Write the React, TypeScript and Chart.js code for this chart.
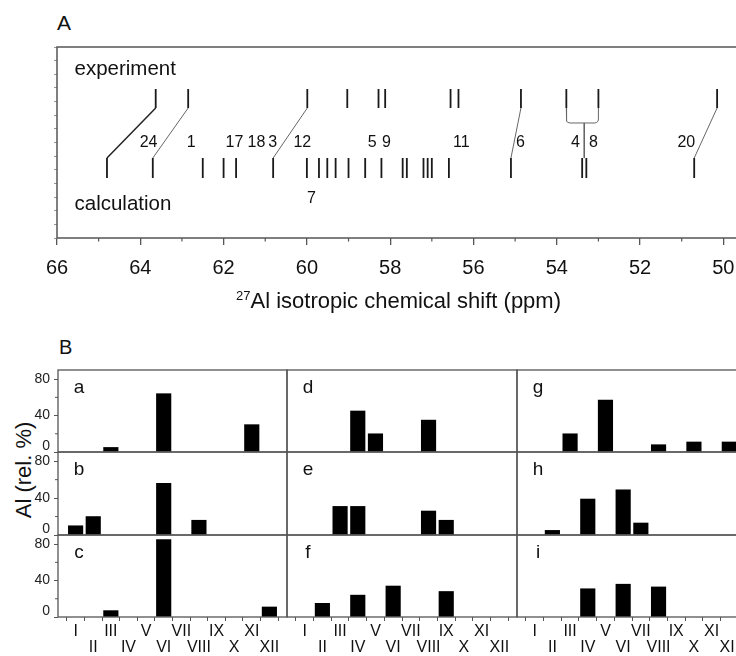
import React, { useEffect, useRef } from 'react';
import { Chart, registerables } from 'chart.js';

Chart.register(...registerables);

const FONT = '"Liberation Sans", Arial, Helvetica, sans-serif';
const INK = '#111';
const FRAME = '#555';

// ---------- Panel A : 27Al isotropic chemical shifts (ppm) ----------
const EXP_SHIFTS = [63.63, 62.85, 59.99, 59.03, 58.28, 58.12, 56.55, 56.36, 54.86, 53.77, 53.0, 50.15];
const CALC_SHIFTS = [64.8, 63.7, 62.5, 62.0, 61.7, 60.81, 60.0, 59.71, 59.51, 59.31, 59.0, 58.6, 58.21, 57.7, 57.6, 57.2, 57.1, 57.0, 56.59, 55.1, 53.39, 53.29, 50.7];
const LINK_EXP = [63.63, 62.85, 59.99, 54.86, 50.15];
const LINK_CALC = [64.8, 63.7, 60.81, 55.1, 50.7];
const BRACKET_EXP = [53.77, 53.0];
const BRACKET_CALC = 53.34;
const SITE_LABELS = ['24', '1', '17', '18', '3', '12', '5', '9', '11', '6', '4', '8', '20'];
const SITE_LABEL_SHIFTS = [63.8, 62.78, 61.74, 61.21, 60.82, 60.11, 58.43, 58.09, 56.29, 54.87, 53.55, 53.12, 50.89];
const LOW_LABELS = ['7'];
const LOW_LABEL_SHIFTS = [59.89];
const SHIFT_MIN = 49;
const SHIFT_MAX = 66;

// ---------- Panel B : Al distribution over T sites (rel. %) ----------
const SITES = ['I', 'II', 'III', 'IV', 'V', 'VI', 'VII', 'VIII', 'IX', 'X', 'XI', 'XII'];
const AL_A = [0, 0, 5, 0, 0, 64, 0, 0, 0, 0, 30, 0];
const AL_B = [10, 20, 0, 0, 0, 56, 0, 16, 0, 0, 0, 0];
const AL_C = [0, 0, 7, 0, 0, 85, 0, 0, 0, 0, 0, 11];
const AL_D = [0, 0, 0, 45, 20, 0, 0, 35, 0, 0, 0, 0];
const AL_E = [0, 0, 31, 31, 0, 0, 0, 26, 16, 0, 0, 0];
const AL_F = [0, 15, 0, 24, 0, 34, 0, 0, 28, 0, 0, 0];
const AL_G = [0, 0, 20, 0, 57, 0, 0, 8, 0, 11, 0, 11];
const AL_H = [0, 5, 0, 39, 0, 49, 13, 0, 0, 0, 0, 0];
const AL_I = [0, 0, 0, 31, 0, 36, 0, 33, 0, 0, 0, 0];
const PANEL_NAMES = ['a', 'b', 'c', 'd', 'e', 'f', 'g', 'h', 'i'];
const PANEL_VALUES = [AL_A, AL_B, AL_C, AL_D, AL_E, AL_F, AL_G, AL_H, AL_I];
const Y_TICKS_MAJOR = [0, 40, 80];
const Y_TICKS_MINOR = [20, 60];

// ---------- layout (pixels) ----------
const A_W = 780, A_H = 290;
const A_LEFT = 57, A_TOP = 47, A_RIGHT_PAD = 15, A_AXIS_H = 52;
// vertical levels of panel A (in its own 0..14 y units)
const EXP_LO = 9.53, EXP_HI = 10.92, CALC_LO = 4.4, CALC_HI = 5.86;
const BRACKET_Y = 8.43;
const LABEL_BASE = 6.69, LOW_BASE = 2.54;
const TXT_EXP_BASE = 11.95, TXT_CALC_BASE = 2.05, TXT_X = 65.58;

const COL_X = [58, 287, 517, 747];
const ROW_Y = [370, 452, 535, 617];
const B_PAD_L = 58, B_PAD_T = 20, B_PAD_R = 8, B_PAD_B = 44;

function sticks(arr: number[], lo: number, hi: number) {
  return arr.flatMap((s) => [{ x: s, y: lo }, { x: s, y: hi }, { x: s, y: null as any }]);
}

function links(from: number[], to: number[]) {
  return from.flatMap((s, i) => [{ x: s, y: EXP_LO }, { x: to[i], y: CALC_HI }, { x: s, y: null as any }]);
}

function bracket() {
  const [a, b] = BRACKET_EXP;
  return [
    { x: a, y: EXP_LO }, { x: a, y: 8.72 }, { x: a - 0.01, y: 8.56 }, { x: a - 0.04, y: 8.47 }, { x: a - 0.09, y: BRACKET_Y },
    { x: b + 0.09, y: BRACKET_Y }, { x: b + 0.04, y: 8.47 }, { x: b + 0.01, y: 8.56 }, { x: b, y: 8.72 }, { x: b, y: EXP_LO },
    { x: b, y: null as any },
    { x: BRACKET_CALC, y: BRACKET_Y }, { x: BRACKET_CALC, y: CALC_HI },
  ];
}

const lineDs = (data: any[], color: string, width: number) => ({
  data, borderColor: color, borderWidth: width, pointRadius: 0, fill: false, tension: 0,
  spanGaps: false, borderCapStyle: 'butt', showLine: true,
});

const panelAPlugin = {
  id: 'panelA',
  afterDraw(chart: any) {
    const { ctx, chartArea: ca, scales } = chart;
    const x = scales.x, y = scales.y;
    ctx.save();
    ctx.strokeStyle = FRAME;
    ctx.lineWidth = 1.5;
    ctx.strokeRect(ca.left, ca.top, ca.right - ca.left, ca.bottom - ca.top);
    ctx.lineWidth = 1.2;
    ctx.beginPath();
    for (let v = SHIFT_MIN; v <= SHIFT_MAX; v++) {
      if (v % 2 !== 0) {
        const px = x.getPixelForValue(v);
        ctx.moveTo(px, ca.bottom);
        ctx.lineTo(px, ca.bottom + 3.5);
      }
    }
    ctx.stroke();
    ctx.fillStyle = INK;
    ctx.textBaseline = 'alphabetic';
    ctx.textAlign = 'left';
    ctx.font = `20.5px ${FONT}`;
    ctx.fillText('experiment', x.getPixelForValue(TXT_X), y.getPixelForValue(TXT_EXP_BASE));
    ctx.fillText('calculation', x.getPixelForValue(TXT_X), y.getPixelForValue(TXT_CALC_BASE));
    ctx.textAlign = 'center';
    ctx.font = `16px ${FONT}`;
    SITE_LABELS.forEach((t, i) => ctx.fillText(t, x.getPixelForValue(SITE_LABEL_SHIFTS[i]), y.getPixelForValue(LABEL_BASE)));
    LOW_LABELS.forEach((t, i) => ctx.fillText(t, x.getPixelForValue(LOW_LABEL_SHIFTS[i]), y.getPixelForValue(LOW_BASE)));
    ctx.restore();
  },
};

function panelAConfig(): any {
  return {
    type: 'line',
    data: {
      datasets: [
        lineDs(sticks(EXP_SHIFTS, EXP_LO, EXP_HI), '#1a1a1a', 1.8),
        lineDs(sticks(CALC_SHIFTS, CALC_LO, CALC_HI), '#1a1a1a', 1.8),
        lineDs(links(LINK_EXP.slice(0, 1), LINK_CALC.slice(0, 1)), '#222', 1.5),
        lineDs(links(LINK_EXP.slice(1), LINK_CALC.slice(1)), '#666', 1),
        lineDs(bracket(), '#666', 1),
      ],
    },
    options: {
      animation: false,
      responsive: false,
      maintainAspectRatio: false,
      events: [],
      layout: { padding: { left: 0, top: A_TOP, right: A_RIGHT_PAD, bottom: 0 } },
      plugins: { legend: { display: false }, tooltip: { enabled: false } },
      scales: {
        x: {
          type: 'linear', min: SHIFT_MIN, max: SHIFT_MAX, reverse: true, position: 'bottom',
          afterFit: (s: any) => { s.height = A_AXIS_H; },
          ticks: { stepSize: 2, includeBounds: false, autoSkip: false, maxRotation: 0, padding: 11, color: INK, font: { family: FONT, size: 20 } },
          grid: { drawOnChartArea: false, drawTicks: true, tickLength: 7, color: FRAME, lineWidth: 1.3 },
          border: { display: false },
        },
        y: {
          type: 'linear', min: 0, max: 14, position: 'left',
          afterFit: (s: any) => { s.width = A_LEFT; },
          ticks: { stepSize: 1, display: false },
          grid: { drawOnChartArea: false, drawTicks: true, tickLength: 3, color: '#999', lineWidth: 1 },
          border: { display: false },
        },
      },
    },
    plugins: [panelAPlugin],
  };
}

function makePanelBPlugin(name: string, showY: boolean) {
  return {
    id: 'panelB',
    afterDraw(chart: any) {
      const { ctx, chartArea: ca, scales } = chart;
      ctx.save();
      ctx.strokeStyle = FRAME;
      ctx.lineWidth = 1.3;
      ctx.strokeRect(ca.left, ca.top, ca.right - ca.left, ca.bottom - ca.top);
      if (showY) {
        ctx.lineWidth = 1;
        ctx.beginPath();
        Y_TICKS_MINOR.forEach((v) => {
          const py = scales.y.getPixelForValue(v);
          ctx.moveTo(ca.left - 3, py);
          ctx.lineTo(ca.left, py);
        });
        ctx.stroke();
      }
      ctx.fillStyle = INK;
      ctx.font = `19px ${FONT}`;
      ctx.textAlign = 'center';
      ctx.textBaseline = 'alphabetic';
      ctx.fillText(name, ca.left + 21, ca.top + 23);
      ctx.restore();
    },
  };
}

function panelBConfig(col: number, row: number, values: number[], name: string): any {
  const showY = col === 0;
  const showX = row === 2;
  return {
    type: 'bar',
    data: {
      datasets: [{
        data: SITES.map((_, i) => ({ x: i + 1, y: values[i] ? values[i] : null })),
        backgroundColor: '#000',
        borderWidth: 0,
        barThickness: 14.5,
      }],
    },
    options: {
      animation: false,
      responsive: false,
      maintainAspectRatio: false,
      events: [],
      layout: { padding: { left: 0, top: B_PAD_T, right: B_PAD_R, bottom: 0 } },
      plugins: { legend: { display: false }, tooltip: { enabled: false } },
      scales: {
        x: {
          type: 'linear', min: 0, max: SITES.length + 1, offset: false, position: 'bottom',
          afterFit: (s: any) => { s.height = B_PAD_B; },
          ticks: {
            display: showX, stepSize: 1, autoSkip: false, maxRotation: 0, padding: 3, color: INK,
            font: { family: FONT, size: 16, lineHeight: 1 },
            callback: (v: number) => {
              if (v < 1 || v > SITES.length) return '';
              const lab = SITES[v - 1];
              return v % 2 === 1 ? lab : ['', lab];
            },
          },
          grid: { drawOnChartArea: false, drawTicks: showX, tickLength: 4, color: FRAME, lineWidth: 1 },
          border: { display: false },
        },
        y: {
          type: 'linear', min: 0, max: 90, position: 'left',
          afterFit: (s: any) => { s.width = B_PAD_L; },
          afterBuildTicks: (s: any) => { s.ticks = Y_TICKS_MAJOR.map((v) => ({ value: v })); },
          ticks: {
            display: showY, padding: 4, color: '#222',
            font: { family: FONT, size: 14, lineHeight: 0.86 },
            callback: (v: number) => (v === 0 ? ['0', ''] : String(v)),
          },
          grid: { drawOnChartArea: false, drawTicks: showY, tickLength: 4, color: FRAME, lineWidth: 1 },
          border: { display: false },
        },
      },
    },
    plugins: [makePanelBPlugin(name, showY)],
  };
}

function ChartCanvas(props: { left: number; top: number; width: number; height: number; make: () => any }) {
  const ref = useRef<HTMLCanvasElement>(null);
  useEffect(() => {
    const chart = new Chart(ref.current as HTMLCanvasElement, props.make());
    return () => chart.destroy();
  }, []);
  const { left, top, width, height } = props;
  return (
    <canvas
      ref={ref}
      width={width}
      height={height}
      style={{ position: 'absolute', left, top, width, height, display: 'block' }}
    />
  );
}

export default function App() {
  const panels: any[] = [];
  for (let col = 0; col < 3; col++) {
    for (let row = 0; row < 3; row++) {
      const idx = col * 3 + row;
      const L = COL_X[col], R = COL_X[col + 1], T = ROW_Y[row], B = ROW_Y[row + 1];
      panels.push(
        <ChartCanvas
          key={PANEL_NAMES[idx]}
          left={L - B_PAD_L}
          top={T - B_PAD_T}
          width={R - L + B_PAD_L + B_PAD_R}
          height={B - T + B_PAD_T + B_PAD_B}
          make={() => panelBConfig(col, row, PANEL_VALUES[idx], PANEL_NAMES[idx])}
        />
      );
    }
  }
  return (
    <div style={{ position: 'absolute', left: 0, top: 0, width: 736, height: 656, overflow: 'hidden', background: '#fff', fontFamily: FONT, color: INK }}>
      <div style={{ position: 'absolute', left: 57, top: 12, fontSize: 21, lineHeight: 1 }}>A</div>
      <ChartCanvas left={0} top={0} width={A_W} height={A_H} make={panelAConfig} />
      <div style={{ position: 'absolute', left: 236, top: 290, fontSize: 22, lineHeight: 1, whiteSpace: 'nowrap' }}>
        <sup style={{ fontSize: 13, verticalAlign: 'top', lineHeight: 1, position: 'relative', top: -1 }}>27</sup>Al isotropic chemical shift (ppm)
      </div>
      <div style={{ position: 'absolute', left: 59, top: 337, fontSize: 20, lineHeight: 1 }}>B</div>
      <div style={{ position: 'absolute', left: 24, top: 470, fontSize: 22, lineHeight: 1, whiteSpace: 'nowrap', transform: 'translate(-50%, -50%) rotate(-90deg)' }}>Al (rel. %)</div>
      {panels}
    </div>
  );
}
